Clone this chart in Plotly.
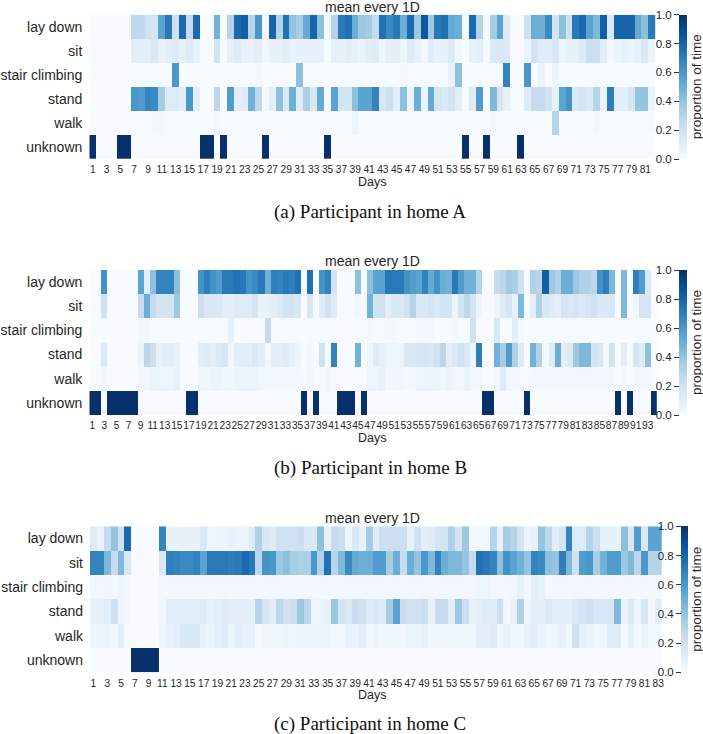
import plotly.graph_objects as go
from plotly.colors import sequential

W, H = 703, 734
activities = ["lay down", "sit", "stair climbing", "stand", "walk", "unknown"]
heat_title = "mean every 1D"
x_title = "Days"
cbar_title = "proportion of time"
captions = ["(a) Participant in home A", "(b) Participant in home B", "(c) Participant in home C"]
cbar_ticks = [0.0, 0.2, 0.4, 0.6, 0.8, 1.0]

# Home A (82 days)
a_lay = [0,0,0,0,0,0,.27,.27,.2,.17,
         .55,.72,.2,.78,.25,.78,0,0,.48,0,
         .3,.78,.82,.3,.6,.03,.8,.3,.75,.4,
         .35,.52,.8,.42,.03,.3,.72,.75,.5,.38,
         .36,.25,.75,.65,.72,.5,.78,.38,.85,.38,
         .72,.75,.52,.5,.02,.78,.3,.01,.35,.55,
         .12,0,0,.2,.5,.5,.65,.18,.42,.2,
         .72,.78,.55,.45,.82,.15,.8,.8,.8,.52,
         .42,.72]
a_sit = [0,0,0,0,0,0,.1,.1,.1,.15,
         .08,.1,.12,.08,.12,.08,0,0,.18,.01,
         .08,.12,.08,.08,.1,.03,.07,.08,.1,.07,
         .07,.07,.08,.07,.01,.08,.08,.1,.08,.06,
         .1,.12,.05,.1,.1,.05,.12,.08,.03,.12,
         .08,.07,.14,.03,.01,.08,.1,.01,.14,.14,
         .14,0,0,.05,.18,.12,.12,.16,.05,.08,
         .08,.13,.22,.22,.1,.03,.05,.08,.06,.08,
         .15,.05]
a_stair = [0,0,0,0,0,0,.01,.01,.01,.01,
           .01,.01,.6,.01,.01,.01,0,0,.01,0,
           .01,.01,.01,.01,.02,0,.01,.01,.01,.01,
           .42,.01,.01,.01,0,.01,.01,.01,.01,.01,
           .01,.01,.01,.01,.01,.02,.01,.01,.01,.01,
           .01,.01,.08,.42,0,.01,.01,0,.01,.02,
           .68,0,0,.6,0,.06,0,.05,.01,.01,
           .01,.01,.01,.01,.01,.01,.01,.01,.01,.01,
           .01,.01]
a_stand = [0,0,0,0,0,0,.6,.58,.68,.65,
           .35,.13,.13,.1,.6,.1,0,0,.27,0,
           .58,.1,.12,.48,.27,.02,.1,.42,.15,.5,
           .12,.33,.15,.52,.02,.55,.18,.18,.42,.55,
           .55,.68,.16,.22,.1,.42,.05,.5,.05,.52,
           .18,.14,.18,.1,.01,.12,.58,.01,.45,.17,
           .08,.01,.01,.13,.25,.25,.2,.08,.55,.62,
           .15,.17,.14,.3,.05,.7,.1,.1,.17,.4,
           .4,.05]
a_walk = [0,0,0,0,0,0,.01,.01,.01,.02,
          .02,.01,.01,.01,.01,.01,0,0,.02,0,
          .01,.01,.01,.01,.01,0,.01,.01,.01,.01,
          .01,.01,.01,.01,0,.01,.01,.01,.05,.01,
          .01,.01,.01,.01,.01,.01,.01,.01,.01,.01,
          .01,.01,.01,.01,0,.01,.01,0,.02,.01,
          .01,0,0,.01,.01,.01,.01,.3,.01,.01,
          .01,.01,.01,.03,.01,.01,.01,.01,.01,.01,
          .01,.01]
a_unknown = [1,0,0,0,1,1,0,0,0,0,
             0,0,0,0,0,0,1,1,0,1,
             0,0,0,0,0,1,0,0,0,0,
             0,0,0,0,1,0,0,0,0,0,
             0,0,0,0,0,0,0,0,0,0,
             0,0,0,0,1,0,0,1,0,0,
             0,0,1,0,0,0,0,0,0,0,
             0,0,0,0,0,0,0,0,0,0,
             0,0]

# Home B (94 days)
b_lay = [0,0,.62,0,0,0,0,0,.55,.1,
         .42,.68,.68,.68,.42,0,0,0,.62,.7,
         .62,.58,.72,.72,.75,.72,.62,.65,.72,.48,
         .7,.68,.72,.7,.75,0,.75,0,.62,.68,
         .18,0,0,0,.42,0,.42,.55,.55,.72,
         .72,.72,.62,.58,.55,.68,.52,.62,.5,.48,
         .72,.58,.48,.48,.3,0,0,.25,.28,.36,
         .33,.2,0,.32,.28,.82,.38,.32,.5,.5,
         .38,.32,.32,.28,.62,.7,.45,0,.45,0,
         .7,.58,.15,0]
b_sit = [0,0,.2,0,0,0,0,0,.25,.5,
         .25,.18,.18,.18,.38,0,0,0,.22,.15,
         .15,.15,.1,.1,.12,.12,.12,.17,.07,.08,
         .1,.13,.18,.18,.15,0,.15,0,.12,.2,
         .12,0,0,0,.03,0,.48,.2,.2,.1,
         .15,.15,.2,.3,.14,.14,.18,.14,.18,.18,
         .05,.18,.28,.18,.05,0,0,.05,.12,.17,
         .08,.45,0,.1,.32,.15,.12,.1,.17,.15,
         .17,.14,.17,.2,.14,.14,.16,0,.45,0,
         .03,.17,.17,0]
b_stair = [0,0,.01,0,0,0,0,0,.03,.03,
           .01,.01,.01,.01,.01,0,0,0,.01,.01,
           .01,.01,.01,.08,0,0,0,0,0,.25,
           .01,.01,.01,.01,.01,0,.01,0,.01,.01,
           .01,0,0,0,.01,0,.02,.01,.01,.02,
           .02,.01,.01,.01,.02,.02,.02,0,0,.01,
           .02,.01,.01,.2,.01,0,0,.15,0,0,
           .1,.02,0,.01,.01,.01,.01,.01,.01,.01,
           .01,.01,.01,.01,.01,.01,.01,0,.01,0,
           .01,.01,.01,0]
b_stand = [0,0,.12,0,0,0,0,0,.06,.28,
           .22,.08,.1,.1,.07,0,0,0,.1,.12,
           .1,.14,.16,.03,.1,.1,.1,.14,.1,.03,
           .1,.1,.12,.08,.05,0,.03,0,.2,.01,
           .68,0,0,0,.48,0,.05,.12,.08,.05,
           .05,.05,.15,.15,.17,.17,.15,.2,.28,.1,
           .14,.2,.14,.05,.7,0,0,.48,.35,.58,
           .32,.12,0,.48,.32,.02,.12,.5,.1,.14,
           .38,.45,.45,.18,.16,.03,.2,0,.1,0,
           .18,.12,.42,0]
b_walk = [0,0,.04,0,0,0,0,0,.03,.03,
          .06,.05,.05,.05,.08,0,0,0,.04,.04,
          .05,.05,.04,.04,.05,.05,.06,.05,.04,.02,
          .02,.03,.02,.02,.02,0,.03,0,.01,.04,
          .01,0,0,0,.01,0,.05,.05,.07,.03,
          .03,.04,.02,.03,.05,.05,.06,.06,.03,.06,
          .03,.03,.06,.02,.02,0,0,.03,.12,.03,
          .03,.02,0,.02,.02,.02,.02,.02,.02,.03,
          .02,.02,.02,.02,.02,.02,.02,0,.02,0,
          .02,.02,.02,0]
b_unknown = [1,1,0,1,1,1,1,1,0,0,
             0,0,0,0,0,0,1,1,0,0,
             0,0,0,0,0,0,0,0,0,0,
             0,0,0,0,0,1,0,1,0,0,
             0,1,1,1,0,1,0,0,0,0,
             0,0,0,0,0,0,0,0,0,0,
             0,0,0,0,0,1,1,0,0,0,
             0,0,1,0,0,0,0,0,0,0,
             0,0,0,0,0,0,0,1,0,1,
             0,0,0,1]

# Home C (83 days)
c_lay = [.12,.07,.25,.4,.2,.78,0,0,0,0,
         .68,.07,.07,.07,.07,.07,.15,.05,.05,.06,
         .07,.06,.06,.12,.32,.16,.12,.2,.2,.2,
         .22,.15,.15,.42,.08,.25,.22,.05,.15,.07,
         .35,.12,.22,.22,.22,.22,.08,.2,.1,.12,
         .18,.18,.32,.18,.38,.02,.02,.02,.3,.08,
         .35,.3,.18,.05,.08,.4,.28,.1,.18,.68,
         .13,.13,.3,.22,.08,.08,.08,.42,.15,.58,
         .15,.55,.55]
c_sit = [.68,.68,.45,.25,.45,.15,0,0,0,0,
         .15,.7,.68,.65,.65,.68,.55,.72,.72,.72,
         .7,.72,.78,.72,.28,.62,.6,.38,.42,.35,
         .33,.33,.6,.32,.75,.3,.45,.65,.52,.5,
         .5,.58,.58,.35,.5,.25,.5,.4,.6,.45,
         .68,.5,.45,.45,.4,.25,.75,.72,.68,.42,
         .62,.55,.48,.4,.68,.65,.42,.4,.7,.45,
         .2,.58,.6,.35,.48,.58,.58,.38,.45,.28,
         .6,.3,.3]
c_stair = [.03,.03,.04,.02,.05,.02,0,0,0,0,
           .02,.02,.02,.02,.02,.02,.02,.02,.03,.03,
           .02,.02,.02,.02,.02,.02,.02,.02,.02,.02,
           .02,.02,.02,.02,.02,.02,.02,.02,.02,.02,
           .02,.02,.02,.03,.03,.03,.02,.02,.03,.03,
           .02,.02,.02,.02,.02,.03,.05,.05,.03,.02,
           .02,.03,.08,.03,.1,.08,.02,.02,.02,.02,
           .03,.02,.02,.02,.02,.02,.02,.02,.02,.02,
           .02,.02,.02]
c_stand = [.07,.07,.1,.2,.05,.02,0,0,0,0,
           .03,.1,.1,.1,.1,.1,.12,.08,.1,.12,
           .1,.1,.1,.08,.3,.18,.12,.28,.2,.22,
           .38,.28,.05,.05,.08,.38,.18,.15,.22,.2,
           .13,.15,.12,.35,.55,.22,.2,.2,.22,.08,
           .25,.25,.1,.38,.22,.08,.1,.12,.12,.22,
           .03,.07,.32,.05,.1,.1,.14,.1,.1,.1,
           .14,.17,.2,.16,.16,.16,.45,.07,.14,.05,
           .17,.03,.1]
c_walk = [.05,.06,.05,.03,.1,.01,0,0,0,0,
          .04,.07,.1,.15,.15,.15,.08,.05,.1,.12,
          .06,.1,.08,.08,.01,.04,.04,.04,.05,.05,
          .06,.06,.06,.06,.06,.02,.02,.08,.06,.1,
          .03,.06,.03,.04,.05,.03,.06,.06,.08,.03,
          .04,.04,.04,.04,.04,.03,.1,.1,.12,.04,
          .08,.04,.04,.08,.1,.05,.03,.06,.08,.02,
          .2,.08,.06,.04,.05,.12,.12,.02,.08,.02,
          .06,.03,.02]
c_unknown = [0,0,0,0,0,0,1,1,1,1] + [0] * 73

rows_a = [a_lay, a_sit, a_stair, a_stand, a_walk, a_unknown]
rows_b = [b_lay, b_sit, b_stair, b_stand, b_walk, b_unknown]
rows_c = [c_lay, c_sit, c_stair, c_stand, c_walk, c_unknown]
for rows, n in ((rows_a, 82), (rows_b, 94), (rows_c, 83)):
    for r in rows:
        assert len(r) == n, (len(r), n)

panels = [
    dict(rows=rows_a, x0=89.3, x1=655.7, y0=14.7, y1=159, cb0=679, cb1=686.7,
         ty=6.5, dy=182, cy=212),
    dict(rows=rows_b, x0=89.3, x1=656.8, y0=270, y1=415, cb0=679, cb1=686.7,
         ty=261, dy=438, cy=468),
    dict(rows=rows_c, x0=90, x1=661.7, y0=526.3, y1=672.3, cb0=681, cb1=688.3,
         ty=517.5, dy=695, cy=724),
]

SANS = "Liberation Sans"
SERIF = "Liberation Serif"
TXT = "#262626"
blues = sequential.Blues
scale = [[i / (len(blues) - 1), c] for i, c in enumerate(blues)]

fig = go.Figure()
layout = dict(
    width=W, height=H, margin=dict(l=0, r=0, t=0, b=0, autoexpand=False),
    paper_bgcolor="white", plot_bgcolor="white", showlegend=False,
    font=dict(family=SANS, color=TXT), annotations=[],
)
px = lambda v: v / W
py = lambda v: 1 - v / H

for i, p in enumerate(panels):
    k = i + 1
    xn = f"x{k if k > 1 else ''}"
    yn = f"y{k if k > 1 else ''}"
    yh = f"y{k + 3}"
    n = len(p["rows"][0])
    days = list(range(1, n + 1))
    fig.add_trace(go.Heatmap(
        z=p["rows"], x=days, y=activities, xaxis=xn, yaxis=yn,
        colorscale=scale, zmin=0, zmax=1, hoverongaps=False,
        colorbar=dict(
            x=px(p["cb0"]), xanchor="left", xpad=0, ypad=0,
            y=py(p["y1"]), yanchor="bottom", len=(p["y1"] - p["y0"]) / H,
            thickness=p["cb1"] - p["cb0"], outlinewidth=0, ticks="",
            showticklabels=False,
        ),
    ))
    # left-hand scale of the colour bar
    fig.add_trace(go.Scatter(x=[None], y=[None], xaxis=xn, yaxis=yh, hoverinfo="skip"))
    layout[f"xaxis{k if k > 1 else ''}"] = dict(
        domain=[px(p["x0"]), px(p["x1"])], range=[0.5, n + 0.5], anchor=yn,
        tickmode="array", tickvals=days[::2], ticktext=[str(d) for d in days[::2]],
        ticks="", showgrid=False, zeroline=False, showline=False, tickangle=0,
        ticklabelstandoff=3, tickfont=dict(size=10.2, family=SANS, color=TXT),
        title=None,
    )
    layout[f"yaxis{k if k > 1 else ''}"] = dict(
        domain=[py(p["y1"]), py(p["y0"])], range=[5.5, -0.5], anchor=xn,
        type="category", categoryorder="array", categoryarray=activities,
        ticks="", showgrid=False, zeroline=False, showline=False, ticklabelstandoff=6,
        tickfont=dict(size=14, family=SANS, color=TXT),
    )
    layout[f"yaxis{k + 3}"] = dict(
        overlaying=yn, anchor="free", position=px(p["cb0"]), side="left", range=[0, 1],
        tickmode="array", tickvals=cbar_ticks, ticktext=[f"{v:.1f}" for v in cbar_ticks],
        ticks="outside", ticklen=5, tickcolor="#333333", tickwidth=1,
        showgrid=False, zeroline=False, showline=False,
        tickfont=dict(size=11.5, family=SANS, color=TXT),
    )
    layout["annotations"] += [
        dict(text=heat_title, x=px(372), y=py(p["ty"]), xref="paper", yref="paper",
             xanchor="center", yanchor="middle", showarrow=False,
             font=dict(size=14, family=SANS, color=TXT)),
        dict(text=x_title, x=px(372), y=py(p["dy"]), xref="paper", yref="paper",
             xanchor="center", yanchor="middle", showarrow=False,
             font=dict(size=12.5, family=SANS, color=TXT)),
        dict(text=captions[i], x=px(370), y=py(p["cy"]), xref="paper", yref="paper",
             xanchor="center", yanchor="middle", showarrow=False,
             font=dict(size=19, family=SERIF, color="#111111")),
        dict(text=cbar_title, x=px(696.5), y=py((p["y0"] + p["y1"]) / 2), xref="paper", yref="paper",
             xanchor="center", yanchor="middle", showarrow=False, textangle=-90,
             font=dict(size=13.5, family=SANS, color=TXT)),
    ]
fig.update_layout(**layout)
fig.write_html("out.html", config=dict(displayModeBar=False),
               post_script="document.body.style.margin='0';")
